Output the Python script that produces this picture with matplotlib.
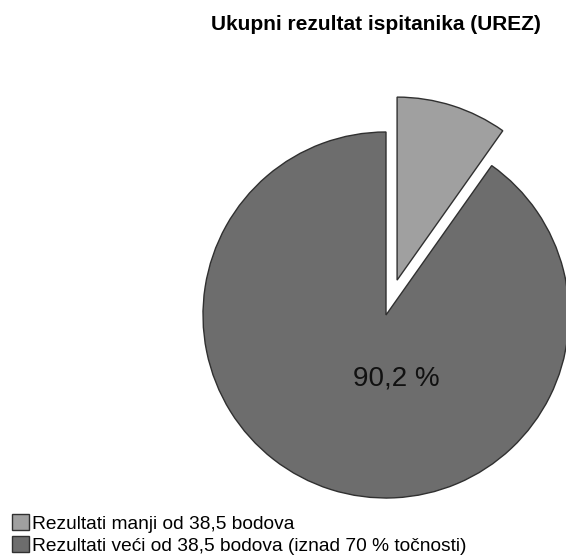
import matplotlib
matplotlib.use("Agg")
import matplotlib.pyplot as plt
from matplotlib.patches import Patch

plt.rcParams['font.family'] = ['Liberation Sans', 'DejaVu Sans']

categories = ["Rezultati manji od 38,5 bodova",
              "Rezultati veći od 38,5 bodova (iznad 70 % točnosti)"]
values = [9.8, 90.2]
colors = ["#a0a0a0", "#6d6d6d"]
explode = [0.2, 0.0]
title = "Ukupni rezultat ispitanika (UREZ)"
label_text = "90,2 %"

W, H = 566, 559
fig = plt.figure(figsize=(W / 100, H / 100), dpi=100)

cx, cy, r = 386, 315, 183
ax = fig.add_axes([(cx - r) / W, (H - cy - r) / H, 2 * r / W, 2 * r / H])
wedges, _ = ax.pie(values, colors=colors, explode=explode, startangle=90,
                   counterclock=False, radius=1.0,
                   wedgeprops=dict(edgecolor="#303030", linewidth=1.0))
for w in wedges:
    w.set_clip_on(False)
ax.set_xlim(-1, 1)
ax.set_ylim(-1, 1)
ax.set_aspect('equal')
ax.axis('off')

ax.text(0.055, -0.345, label_text, ha='center', va='center', fontsize=20, color='#111111')

fig.text(376 / W, 1 - 25 / H, title, ha='center', va='center', fontsize=15,
         fontweight='bold', color='#000000')

handles = [Patch(facecolor=c, edgecolor="#303030", linewidth=1.0) for c in colors]
fig.legend(handles, categories, loc='upper left', bbox_to_anchor=(12 / W, 1 - 514 / H),
           frameon=False, fontsize=13.75, handlelength=0.9, handleheight=0.9,
           handletextpad=0.15, labelspacing=0.2, borderpad=0, borderaxespad=0)

fig.savefig("out.png", dpi=100, facecolor='white')
